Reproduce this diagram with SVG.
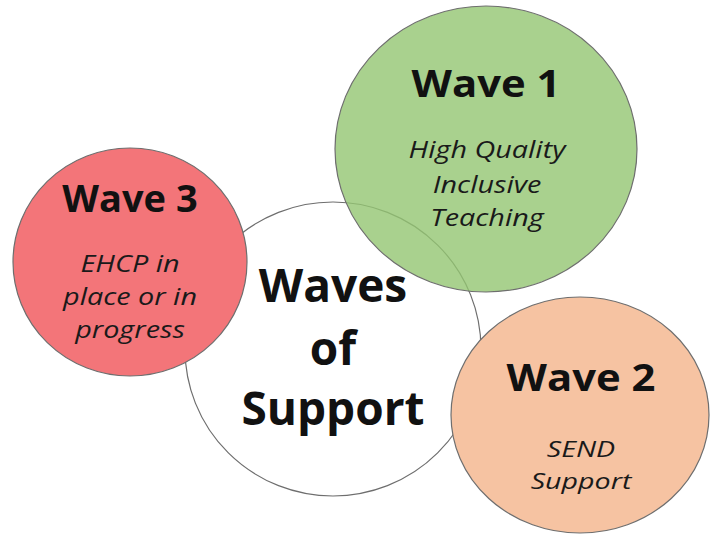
<svg xmlns="http://www.w3.org/2000/svg" width="711" height="539" viewBox="0 0 711 539">
<style>
.c{stroke:#6e6e6e;stroke-width:1.2}
.t{font-family:"Open Sans","Liberation Sans",sans-serif;font-weight:bold;fill:#111;text-anchor:middle}
.s{font-family:"Open Sans","Liberation Sans",sans-serif;font-style:italic;font-size:24px;fill:#1a1a1a;text-anchor:middle}
</style>
<rect width="711" height="539" fill="#ffffff"/>
<g id="center">
<ellipse class="c" cx="333" cy="349" rx="148" ry="147" fill="#ffffff"/>
<text class="t" font-size="46" x="333" y="302">Waves</text>
<text class="t" font-size="46" x="333" y="365">of</text>
<text class="t" font-size="46" x="333" y="425">Support</text>
</g>
<g id="wave3">
<ellipse class="c" cx="130" cy="262" rx="117" ry="114" fill="#f37579"/>
<text class="t" font-size="38" x="130" y="212">Wave 3</text>
<text class="s" transform="translate(130,272) scale(1.2,1)">EHCP in</text>
<text class="s" transform="translate(130,305) scale(1.2,1)">place or in</text>
<text class="s" transform="translate(130,338) scale(1.2,1)">progress</text>
</g>
<g id="wave2">
<ellipse class="c" cx="580" cy="415" rx="129" ry="118" fill="#f6c3a2"/>
<text class="t" font-size="38" transform="translate(581,391) scale(1.1,1)">Wave 2</text>
<text class="s" font-size="22" style="font-size:22px" transform="translate(581,457) scale(1.3,1)">SEND</text>
<text class="s" style="font-size:22px" transform="translate(581,489) scale(1.3,1)">Support</text>
</g>
<g id="wave1">
<ellipse class="c" cx="486" cy="149" rx="151" ry="143" fill="#93c572" fill-opacity="0.8"/>
<text class="t" font-size="38" transform="translate(486,97) scale(1.1,1)">Wave 1</text>
<text class="s" transform="translate(487,158) scale(1.2,1)">High Quality</text>
<text class="s" transform="translate(487,193) scale(1.2,1)">Inclusive</text>
<text class="s" transform="translate(487,226) scale(1.2,1)">Teaching</text>
</g>
</svg>
